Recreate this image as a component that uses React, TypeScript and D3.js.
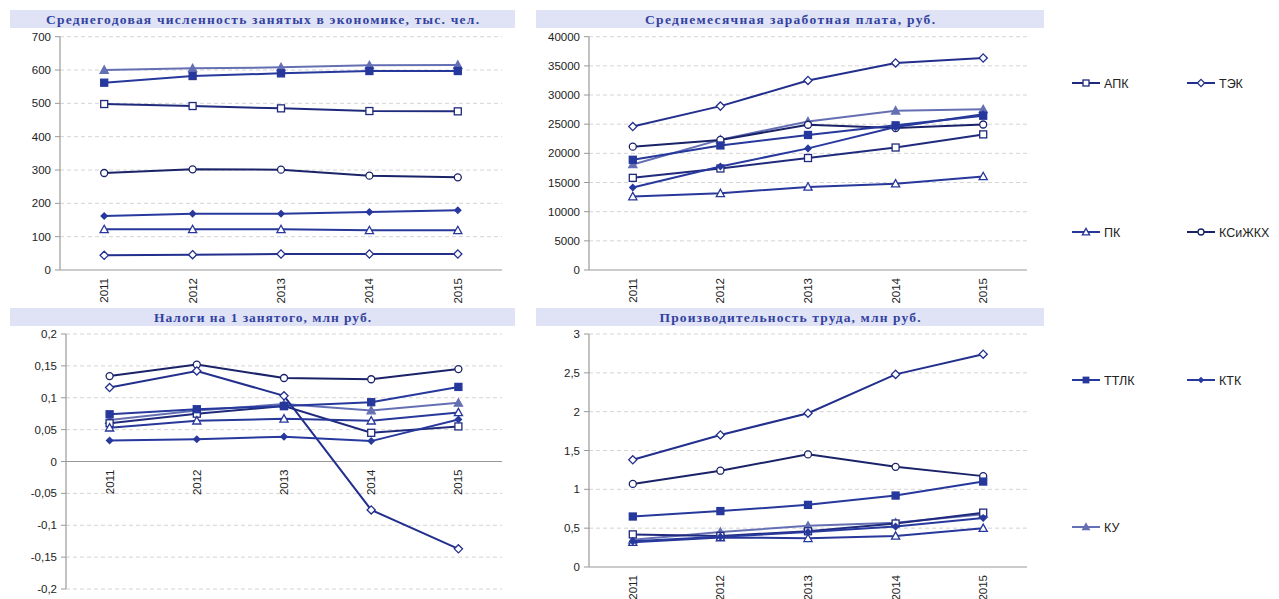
import React from "react";
import * as d3 from "d3";

const years = ["2011", "2012", "2013", "2014", "2015"];
const seriesNames = ["АПК", "ТЭК", "ПК", "КСиЖКХ", "ТТЛК", "КТК", "КУ"];

// Среднегодовая численность занятых
const empAPK = [498, 492, 485, 477, 476];
const empTEK = [44, 46, 48, 48, 48];
const empPK = [122, 122, 122, 119, 119];
const empKS = [291, 302, 301, 283, 278];
const empTTLK = [562, 582, 590, 597, 597];
const empKTK = [162, 169, 169, 174, 179];
const empKU = [600, 605, 608, 614, 615];

// Среднемесячная заработная плата
const wageAPK = [15800, 17400, 19200, 21000, 23250];
const wageTEK = [24600, 28100, 32500, 35500, 36350];
const wagePK = [12600, 13150, 14250, 14800, 16050];
const wageKS = [21150, 22300, 24900, 24350, 24950];
const wageTTLK = [18900, 21350, 23150, 24800, 26450];
const wageKTK = [14150, 17750, 20850, 24500, 26700];
const wageKU = [18100, 22350, 25450, 27300, 27550];

// Налоги на 1 занятого
const taxAPK = [0.060, 0.075, 0.087, 0.045, 0.055];
const taxTEK = [0.116, 0.142, 0.103, -0.076, -0.137];
const taxPK = [0.053, 0.064, 0.067, 0.064, 0.077];
const taxKS = [0.134, 0.152, 0.131, 0.129, 0.145];
const taxTTLK = [0.074, 0.082, 0.087, 0.093, 0.117];
const taxKTK = [0.033, 0.035, 0.039, 0.032, 0.066];
const taxKU = [0.065, 0.080, 0.090, 0.080, 0.092];

// Производительность труда
const prodAPK = [0.42, 0.40, 0.46, 0.56, 0.70];
const prodTEK = [1.38, 1.70, 1.98, 2.48, 2.74];
const prodPK = [0.32, 0.38, 0.37, 0.40, 0.50];
const prodKS = [1.07, 1.24, 1.45, 1.29, 1.17];
const prodTTLK = [0.65, 0.72, 0.80, 0.92, 1.10];
const prodKTK = [0.33, 0.39, 0.45, 0.52, 0.63];
const prodKU = [0.35, 0.45, 0.53, 0.57, 0.68];

const empTicks = [0, 100, 200, 300, 400, 500, 600, 700];
const wageTicks = [0, 5000, 10000, 15000, 20000, 25000, 30000, 35000, 40000];
const taxTicks = [-0.2, -0.15, -0.1, -0.05, 0, 0.05, 0.1, 0.15, 0.2];
const prodTicks = [0, 0.5, 1, 1.5, 2, 2.5, 3];

const titles = [
  "Среднегодовая численность занятых в экономике, тыс. чел.",
  "Среднемесячная заработная плата, руб.",
  "Налоги на 1 занятого, млн руб.",
  "Производительность труда, млн руб.",
];

type Style = { color: string; marker: string; filled: boolean };
const styles: Style[] = [
  { color: "#1f2a7c", marker: "square", filled: false },
  { color: "#222f8c", marker: "diamond", filled: false },
  { color: "#28379a", marker: "triangle", filled: false },
  { color: "#1a2268", marker: "circle", filled: false },
  { color: "#26389c", marker: "square", filled: true },
  { color: "#28399e", marker: "diamond", filled: true },
  { color: "#6570b4", marker: "triangle", filled: true },
];
// draw order (back to front)
const drawOrder = [6, 3, 1, 0, 2, 5, 4];

const fmt = (v: number) => {
  const s = d3.format("~g")(+v.toFixed(4));
  return s.replace(".", ",").replace("−", "-");
};

function Marker({ x, y, st, size }: { x: number; y: number; st: Style; size: number }) {
  const fill = st.filled ? st.color : "#fff";
  const sw = 1.3;
  if (st.marker === "square") {
    const h = size / 2;
    return <rect x={x - h} y={y - h} width={size} height={size} fill={fill} stroke={st.color} strokeWidth={sw} />;
  }
  if (st.marker === "circle") {
    return <circle cx={x} cy={y} r={size / 2} fill={fill} stroke={st.color} strokeWidth={sw} />;
  }
  if (st.marker === "diamond") {
    const h = st.filled ? size / 2 - 0.4 : size / 2 + 0.6;
    return (
      <path d={`M${x},${y - h}L${x + h},${y}L${x},${y + h}L${x - h},${y}Z`} fill={fill} stroke={st.color} strokeWidth={sw} />
    );
  }
  const h = size / 2 + 0.6;
  return (
    <path d={`M${x},${y - h}L${x + h},${y + h * 0.8}L${x - h},${y + h * 0.8}Z`} fill={fill} stroke={st.color} strokeWidth={sw} />
  );
}

type PanelProps = {
  band: [number, number, number, number];
  title: string;
  titleWidth: number;
  left: number;
  right: number;
  top: number;
  bottom: number;
  domain: [number, number];
  ticks: number[];
  data: number[][];
};

function Panel(p: PanelProps) {
  const x = d3.scaleBand<string>().domain(years).range([p.left, p.right]);
  const y = d3.scaleLinear().domain(p.domain).range([p.bottom, p.top]);
  const xc = (yr: string) => (x(yr) as number) + x.bandwidth() / 2;
  const line = d3
    .line<number>()
    .x((_, i) => xc(years[i]))
    .y((v) => y(v));
  const zeroY = y(Math.max(p.domain[0], 0));
  const [bx, by, bw, bh] = p.band;
  return (
    <g>
      <rect x={bx} y={by} width={bw} height={bh} fill="#dfe3f5" />
      <text
        x={bx + bw / 2}
        y={by + bh / 2 + 5}
        textAnchor="middle"
        fontFamily="'Liberation Serif', 'Times New Roman', serif"
        fontWeight="bold"
        fontSize={13.5}
        fill="#3342a0"
        textLength={p.titleWidth}
        lengthAdjust="spacing"
      >
        {p.title}
      </text>
      {p.ticks.map((t) => (
        <g key={t}>
          {t !== Math.max(p.domain[0], 0) ? (
            <line x1={p.left} x2={p.right} y1={y(t)} y2={y(t)} stroke="#d4d4d4" strokeDasharray="4,3" />
          ) : null}
          <line x1={p.left - 5} x2={p.left} y1={y(t)} y2={y(t)} stroke="#999" />
          <text x={p.left - 9} y={y(t) + 4} textAnchor="end" fontFamily="'Liberation Sans', Arial, sans-serif" fontSize={11.5} fill="#222">
            {fmt(t)}
          </text>
        </g>
      ))}
      <line x1={p.left} x2={p.left} y1={p.top} y2={p.bottom} stroke="#999" strokeWidth={1.2} />
      <line x1={p.left} x2={p.right} y1={zeroY} y2={zeroY} stroke="#999" strokeWidth={1.2} />
      {years.map((yr) => (
        <text
          key={yr}
          transform={`translate(${xc(yr) + 4},${zeroY + 8}) rotate(-90)`}
          textAnchor="end"
          fontFamily="'Liberation Sans', Arial, sans-serif"
          fontSize={11.5}
          fill="#222"
        >
          {yr}
        </text>
      ))}
      {drawOrder.map((si) => (
        <g key={si}>
          <path d={line(p.data[si]) as string} fill="none" stroke={styles[si].color} strokeWidth={2} />
          {p.data[si].map((v, i) => (
            <Marker key={i} x={xc(years[i])} y={y(v)} st={styles[si]} size={7} />
          ))}
        </g>
      ))}
    </g>
  );
}

function LegendItem({ x, y, si }: { x: number; y: number; si: number }) {
  const st = styles[si];
  return (
    <g>
      <line x1={x} x2={x + 28} y1={y} y2={y} stroke={st.color} strokeWidth={2} />
      <Marker x={x + 14} y={y} st={st} size={st.filled ? 5.5 : 6} />
      <text x={x + 32} y={y + 4.5} fontFamily="'Liberation Sans', Arial, sans-serif" fontSize={12.5} fill="#222">
        {seriesNames[si]}
      </text>
    </g>
  );
}

export default function App() {
  const emp = [empAPK, empTEK, empPK, empKS, empTTLK, empKTK, empKU];
  const wage = [wageAPK, wageTEK, wagePK, wageKS, wageTTLK, wageKTK, wageKU];
  const tax = [taxAPK, taxTEK, taxPK, taxKS, taxTTLK, taxKTK, taxKU];
  const prod = [prodAPK, prodTEK, prodPK, prodKS, prodTTLK, prodKTK, prodKU];
  const legendPos: [number, number, number][] = [
    [1072, 83, 0],
    [1187, 83, 1],
    [1072, 232, 2],
    [1187, 232, 3],
    [1072, 380, 4],
    [1187, 380, 5],
    [1072, 527, 6],
  ];
  return (
    <svg width={1279} height={599} style={{ position: "absolute", left: 0, top: 0, background: "#fff" }}>
      <rect width={1279} height={599} fill="#fff" />
      <Panel band={[10, 10, 505, 18]} title={titles[0]} titleWidth={433} left={60} right={502} top={36.7} bottom={270} domain={[0, 700]} ticks={empTicks} data={emp} />
      <Panel band={[536, 10, 508, 18]} title={titles[1]} titleWidth={290} left={589} right={1027} top={36.7} bottom={270} domain={[0, 40000]} ticks={wageTicks} data={wage} />
      <Panel band={[10, 308, 505, 18]} title={titles[2]} titleWidth={217} left={66} right={502} top={334} bottom={589} domain={[-0.2, 0.2]} ticks={taxTicks} data={tax} />
      <Panel band={[536, 308, 508, 18]} title={titles[3]} titleWidth={261} left={589} right={1027} top={334} bottom={567} domain={[0, 3]} ticks={prodTicks} data={prod} />
      {legendPos.map(([lx, ly, si]) => (
        <LegendItem key={si} x={lx} y={ly} si={si} />
      ))}
    </svg>
  );
}
